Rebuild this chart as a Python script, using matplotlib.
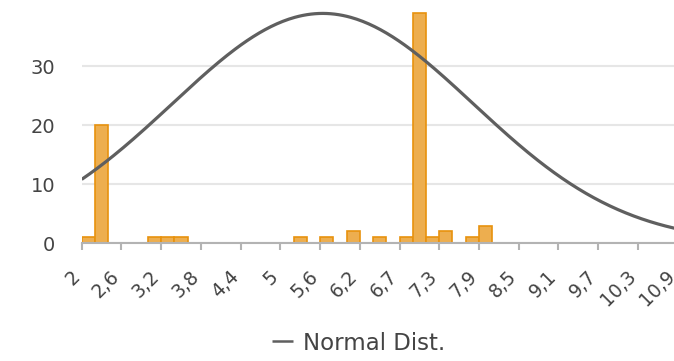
import numpy as np
import matplotlib
matplotlib.use('Agg')
import matplotlib.pyplot as plt
from matplotlib.transforms import ScaledTranslation

# histogram bins (lower edge) and counts
bin_width = 8.9 / 45
bin_lefts = [2.000, 2.198, 2.989, 3.187, 3.384, 5.164, 5.560, 5.956,
             6.351, 6.747, 6.944, 7.142, 7.340, 7.736, 7.933]
counts = [1, 20, 1, 1, 1, 1, 1, 2, 1, 1, 39, 1, 2, 1, 3]

# normal distribution overlay
norm_mean = 5.6
norm_sd = 2.25
norm_peak = 38.9

tick_labels = ['2', '2,6', '3,2', '3,8', '4,4', '5', '5,6', '6,2',
               '6,7', '7,3', '7,9', '8,5', '9,1', '9,7', '10,3', '10,9']
x_min, x_max = 2.0, 10.9

text_col = '#444444'
axis_col = '#b3b3b3'

fig = plt.figure(figsize=(6.74, 3.61), dpi=100)
W, H = 674, 361
ax = fig.add_axes([81.7 / W, 1 - 243.3 / H, (677.6 - 81.7) / W, 243.3 / H])

ax.bar(bin_lefts, counts, width=bin_width, align='edge',
       facecolor='#EDAE4F', edgecolor='#E8920E', linewidth=1.2, zorder=2)

xs = np.linspace(x_min, x_max, 300)
ys = norm_peak * np.exp(-(xs - norm_mean) ** 2 / (2 * norm_sd ** 2))
ax.plot(xs, ys, color='#5f5f5f', linewidth=2.3, label='Normal Dist.', zorder=3,
        solid_capstyle='butt')

ax.set_xlim(x_min, x_max)
ax.set_ylim(0, 41.17)

ticks = np.linspace(x_min, x_max, len(tick_labels))
ax.set_xticks(ticks)
ax.set_xticklabels(tick_labels, rotation=45, ha='right', va='center',
                   rotation_mode='anchor')
ax.tick_params(axis='x', colors=axis_col, length=5, width=1.5, pad=6,
               labelcolor=text_col, labelsize=13.5)
# push the rotated labels down/left a bit
shift = ScaledTranslation(-5 / 100, -15 / 100, fig.dpi_scale_trans)
for lab in ax.get_xticklabels():
    lab.set_transform(lab.get_transform() + shift)

ax.set_yticks([0, 10, 20, 30])
ax.tick_params(axis='y', length=0, pad=19, labelcolor=text_col, labelsize=14)
ax.grid(axis='y', color='#e6e6e6', linewidth=1.5, zorder=0)
ax.set_axisbelow(True)

for s in ['top', 'right', 'left']:
    ax.spines[s].set_visible(False)
ax.spines['bottom'].set_color(axis_col)
ax.spines['bottom'].set_linewidth(1.5)
ax.spines['bottom'].set_zorder(4)

leg = fig.legend(loc='center', bbox_to_anchor=(359 / W, 1 - 343 / H),
                 frameon=False, fontsize=16.5, handlelength=0.9,
                 handletextpad=0.45)
for t in leg.get_texts():
    t.set_color(text_col)
for l in leg.get_lines():
    l.set_linewidth(1.8)

fig.savefig('out.png', dpi=100)
